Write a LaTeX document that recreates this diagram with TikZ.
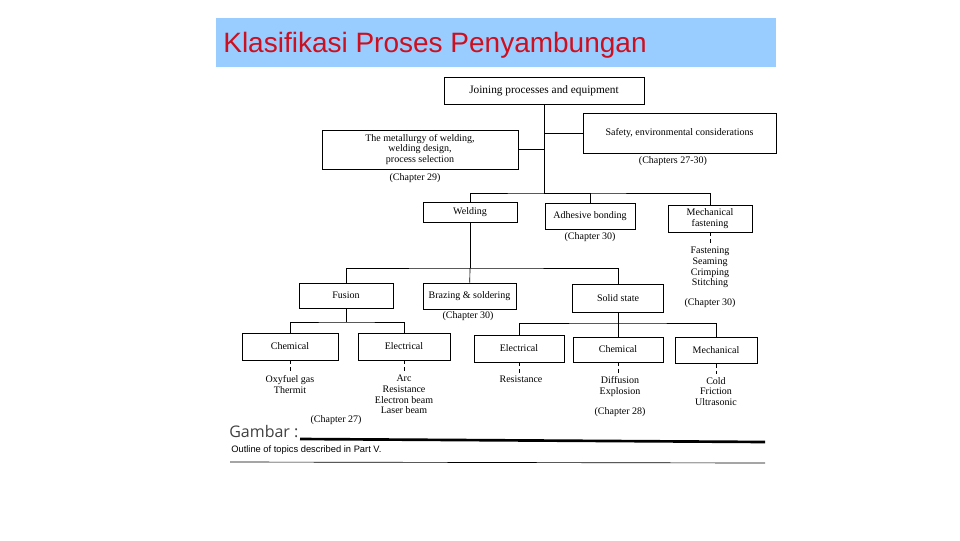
\documentclass[tikz,border=0pt]{standalone}
\usepackage{fontspec}
\setmainfont{Liberation Serif}
\newfontfamily\titlefont{Liberation Sans}
\newfontfamily\gambarfont{Open Sans}
\definecolor{titlebg}{RGB}{153,204,255}
\definecolor{titlered}{RGB}{204,16,32}
\begin{document}
\begin{tikzpicture}[x=0.75pt,y=-0.75pt,line width=0.5pt,
    box/.style={draw,inner sep=1pt,align=center,font=\fontsize{7.5}{8}\selectfont},
    boxsize/.style 2 args={minimum width=#1*0.75pt,minimum height=#2*0.75pt},
    txt/.style={inner sep=0pt,align=center,font=\fontsize{7.5}{8}\selectfont},
    tick/.style={densely dashed,shorten >=2.5pt}]
    \useasboundingbox (0,0) rectangle (960,540);
    % title bar
    \fill[titlebg] (216,18) rectangle (776,67);
    \node[anchor=base west,inner sep=0pt,text=titlered,font=\titlefont\fontsize{21}{21}\selectfont] (title) at (223,52) {Klasifikasi Proses Penyambungan};
    % top level
    \node[box,boxsize={200}{27},font=\fontsize{8.5}{9}\selectfont] (join) at (544,90.5) {Joining processes and equipment};
    \node[box,boxsize={196}{39}] (metal) at (420,149.5) {The metallurgy of welding,\\welding design,\\process selection};
    \node[box,boxsize={193}{40}] (safe) at (679.5,133) {Safety, environmental considerations};
    \node[txt] (ch29) at (415,178) {(Chapter 29)};
    \node[txt] (ch2730) at (673,161) {(Chapters 27-30)};
    \coordinate (b1) at (544,193);
    \draw (join) -- (b1);
    \draw (metal.east) -- (metal.east -| b1);
    \draw (safe.west) -- (safe.west -| b1);
    % second level
    \node[box,boxsize={94}{20}] (weld) at (470,212.5) {Welding};
    \node[box,boxsize={90}{26}] (adh) at (590,216) {Adhesive bonding};
    \node[box,boxsize={84}{27}] (mech) at (710,218.5) {Mechanical\\fastening};
    \node[txt] (ch30a) at (590,237) {(Chapter 30)};
    \node[txt,anchor=north] (fastlist) at (710,247) {Fastening\\Seaming\\Crimping\\Stitching};
    \node[txt] (ch30c) at (710,303) {(Chapter 30)};
    \draw (weld.north) |- (b1) -| (mech.north);
    \draw (b1) -| (adh.north);
    \draw[tick] (mech) -- (fastlist);
    % welding
    \coordinate (b2) at (470,268);
    \node[box,boxsize={94}{25}] (fusion) at (346,295.5) {Fusion};
    \node[box,boxsize={93}{26}] (braz) at (469.5,296) {Brazing \& soldering};
    \node[box,boxsize={91}{28}] (solid) at (618,298) {Solid state};
    \node[txt] (ch30b) at (468,316) {(Chapter 30)};
    \draw (weld) -- (b2);
    \draw (fusion.north) |- (b2) -| (solid.north);
    \draw (b2) -- (braz);
    % fusion
    \coordinate (b3) at (346,322);
    \node[box,boxsize={96}{27}] (chemL) at (290,346.5) {Chemical};
    \node[box,boxsize={92}{27}] (elecL) at (404,346.5) {Electrical};
    \node[txt,anchor=north] (gaslist) at (290,375) {Oxyfuel gas\\Thermit};
    \node[txt,anchor=north] (arclist) at (404,375) {Arc\\Resistance\\Electron beam\\Laser beam};
    \node[txt] (ch27) at (336,420) {(Chapter 27)};
    \draw (fusion) -- (b3);
    \draw (chemL.north) |- (b3) -| (elecL.north);
    \draw[tick] (chemL.south) -- (chemL.south |- gaslist.north);
    \draw[tick] (elecL.south) -- (elecL.south |- arclist.north);
    % solid state
    \coordinate (b4) at (618,323);
    \node[box,boxsize={90}{27}] (elecR) at (519,348.5) {Electrical};
    \node[box,boxsize={90}{25}] (chemR) at (618,349.5) {Chemical};
    \node[box,boxsize={82}{26}] (mechR) at (716,350.5) {Mechanical};
    \node[txt,anchor=north] (reslist) at (521,376) {Resistance};
    \node[txt,anchor=north] (difflist) at (620,376) {Diffusion\\Explosion};
    \node[txt,anchor=north] (coldlist) at (716,377) {Cold\\Friction\\Ultrasonic};
    \node[txt] (ch28) at (620,412) {(Chapter 28)};
    \draw (solid) -- (b4);
    \draw (elecR.north) |- (b4) -| (mechR.north);
    \draw (b4) -- (chemR);
    \draw[tick] (elecR.south) -- (elecR.south |- reslist.north);
    \draw[tick] (chemR.south) -- (chemR.south |- difflist.north);
    \draw[tick] (mechR.south) -- (mechR.south |- coldlist.north);
    % caption
    \node[anchor=base west,inner sep=0pt,text=black!75,font=\gambarfont\fontsize{12}{12}\selectfont] (gambar) at (229,437) {Gambar :};
    \draw[line width=2pt] (300,439) -- (765,442);
    \node[anchor=base west,inner sep=0pt,font=\titlefont\fontsize{7}{7}\selectfont] (caption) at (231,452) {Outline of topics described in Part V.};
    \draw (230,462) -- (765,463);
\end{tikzpicture}
\end{document}
